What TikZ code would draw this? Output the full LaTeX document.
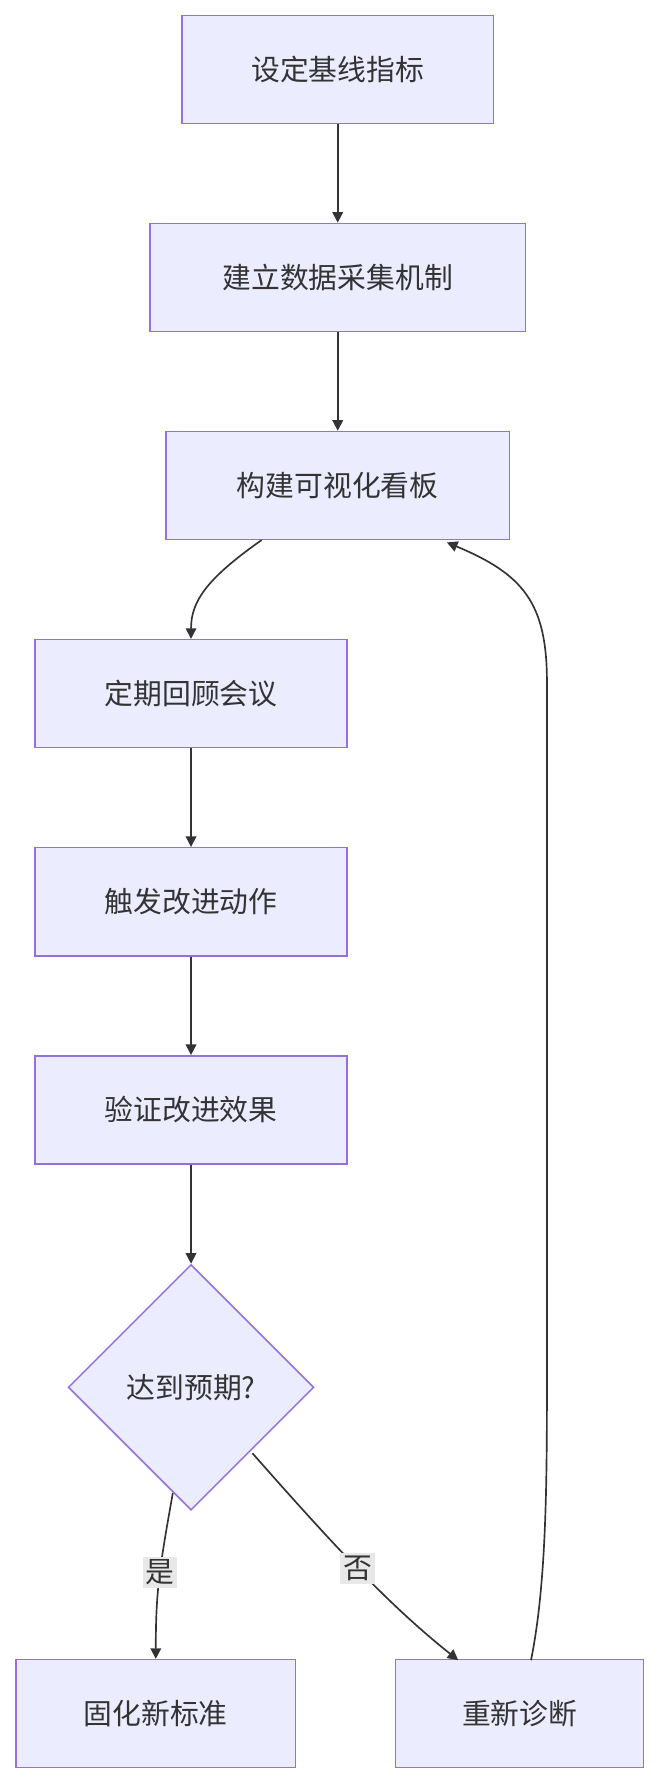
\documentclass[tikz,border=0pt]{standalone}
\usepackage{fontspec}
\setmainfont{Noto Sans CJK SC}
\usetikzlibrary{shapes.geometric,arrows.meta}
\definecolor{nf}{HTML}{ECECFF}
\definecolor{ns}{HTML}{9370DB}
\definecolor{ln}{HTML}{333333}
\definecolor{lb}{HTML}{E8E8E8}
\begin{document}
\begin{tikzpicture}[x=0.75pt,y=-0.75pt,
  box/.style={draw=ns,fill=nf,line width=1pt,minimum height=71.25pt,inner sep=0pt,font=\fontsize{19}{22}\selectfont,text=ln},
  dia/.style={diamond,draw=ns,fill=nf,line width=1pt,minimum width=162pt,minimum height=162pt,inner sep=0pt,font=\fontsize{19}{22}\selectfont,text=ln},
  arr/.style={draw=ln,line width=1.1pt,-{Triangle[length=7pt,width=7pt]}},
  lab/.style={fill=lb,inner sep=2pt,font=\fontsize{19}{22}\selectfont,text=ln}]
\useasboundingbox (0,0) rectangle (580,1568);
\node[box,minimum width=205.5pt] (a) at (297,61) {设定基线指标};
\node[box,minimum width=247.5pt] (b) at (297,244) {建立数据采集机制};
\node[box,minimum width=226.5pt] (c) at (297,427) {构建可视化看板};
\node[box,minimum width=206pt] (d) at (168,610) {定期回顾会议};
\node[box,minimum width=206pt] (e) at (168,793) {触发改进动作};
\node[box,minimum width=206pt] (f) at (168,976) {验证改进效果};
\node[dia] (g) at (168,1220) {达到预期?};
\node[box,minimum width=184.5pt] (h) at (137,1507) {固化新标准};
\node[box,minimum width=163.5pt] (i) at (457,1507) {重新诊断};
\draw[arr] (a) -- (b);
\draw[arr] (b) -- (c);
\draw[arr] (230,475) .. controls (180,510) and (168,530) .. (d.north);
\draw[arr] (d) -- (e);
\draw[arr] (e) -- (f);
\draw[arr] (f) -- (g);
\draw[arr] (152,1313) .. controls (140,1380) and (137,1400) .. (h.north) node[lab,pos=0.45] {是};
\draw[arr] (222,1278) .. controls (290,1355) and (340,1410) .. (403,1460) node[lab,pos=0.5] {否};
\draw[arr] (467,1460) .. controls (481,1390) and (481,1300) .. (481,1200) -- (481,600) .. controls (481,530) and (460,505) .. (393,477);
\end{tikzpicture}
\end{document}
